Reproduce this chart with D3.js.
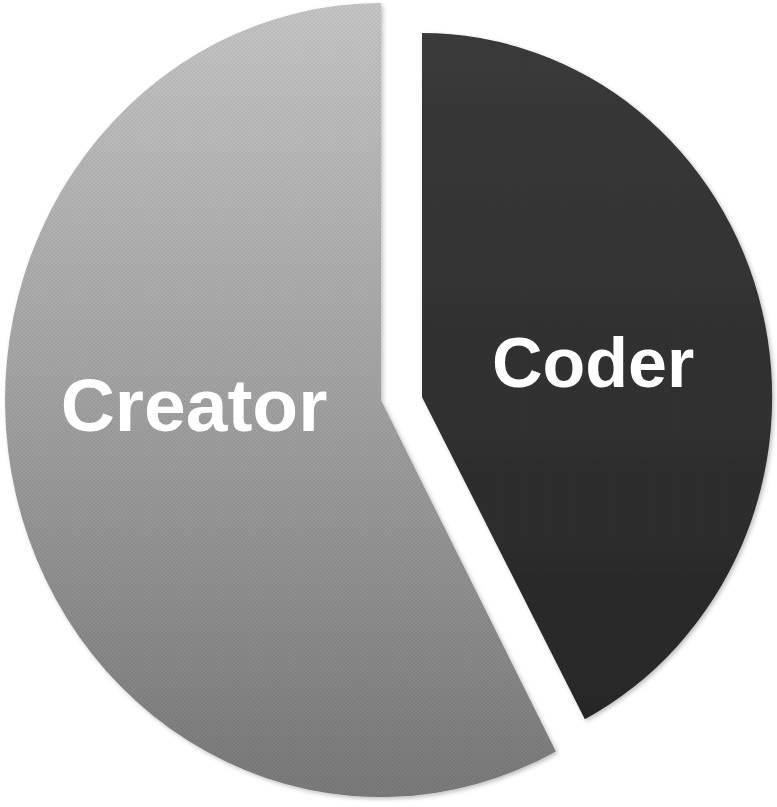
<!DOCTYPE html>
<html>
<head>
<meta charset="utf-8">
<script src="https://cdn.jsdelivr.net/npm/d3@7"></script>
<style>
html,body{margin:0;padding:0;background:#fff;}
svg{display:block;}
</style>
</head>
<body>
<svg id="chart" width="777" height="807"></svg>
<script>
// Data
const categories = ["Coder", "Creator"];
const values = [42.3, 57.7];

const svg = d3.select("#chart");
const defs = svg.append("defs");

// Gradients
const gCreator = defs.append("linearGradient").attr("id", "gCreator")
  .attr("x1", 0).attr("y1", 0).attr("x2", 0).attr("y2", 1);
gCreator.append("stop").attr("offset", "0%").attr("stop-color", "#c6c6c6");
gCreator.append("stop").attr("offset", "50%").attr("stop-color", "#a2a2a2");
gCreator.append("stop").attr("offset", "100%").attr("stop-color", "#7a7a7a");

const gCoder = defs.append("linearGradient").attr("id", "gCoder")
  .attr("x1", 0).attr("y1", 0).attr("x2", 0).attr("y2", 1);
gCoder.append("stop").attr("offset", "0%").attr("stop-color", "#3b3b3b");
gCoder.append("stop").attr("offset", "100%").attr("stop-color", "#282828");

// Checker texture
const pat = defs.append("pattern").attr("id", "checker")
  .attr("width", 4).attr("height", 4).attr("patternUnits", "userSpaceOnUse");
pat.append("rect").attr("width", 2).attr("height", 2).attr("fill", "#000").attr("opacity", 0.05);
pat.append("rect").attr("x", 2).attr("y", 2).attr("width", 2).attr("height", 2).attr("fill", "#000").attr("opacity", 0.05);

// Soft shadow
const f = defs.append("filter").attr("id", "shadow")
  .attr("x", "-5%").attr("y", "-5%").attr("width", "110%").attr("height", "110%");
f.append("feDropShadow").attr("dx", 2).attr("dy", 2).attr("stdDeviation", 2)
  .attr("flood-color", "#000").attr("flood-opacity", 0.25);

const pie = d3.pie().sort(null).value(d => d)(values);

// Layout per slice (exploded, slightly elliptical)
const layout = {
  Coder:   {cx: 422, cy: 397, r: 364, sx: 0.962, fill: "url(#gCoder)", lx: 593, ly: 387, fs: 70},
  Creator: {cx: 381, cy: 400, r: 397, sx: 0.947, fill: "url(#gCreator)", lx: 194, ly: 431, fs: 75}
};

pie.forEach((p, i) => {
  const name = categories[i];
  const L = layout[name];
  const arc = d3.arc().innerRadius(0).outerRadius(L.r);
  const g = svg.append("g")
    .attr("transform", `translate(${L.cx},${L.cy}) scale(${L.sx},1)`);
  g.append("path").attr("d", arc(p)).attr("fill", L.fill).attr("filter", "url(#shadow)");
  g.append("path").attr("d", arc(p)).attr("fill", "url(#checker)");
});

pie.forEach((p, i) => {
  const name = categories[i];
  const L = layout[name];
  svg.append("text")
    .attr("x", L.lx).attr("y", L.ly)
    .attr("text-anchor", "middle")
    .attr("font-family", "Liberation Sans, Arial, sans-serif")
    .attr("font-weight", "bold")
    .attr("font-size", L.fs)
    .attr("fill", "#fff")
    .text(name);
});
</script>
</body>
</html>
